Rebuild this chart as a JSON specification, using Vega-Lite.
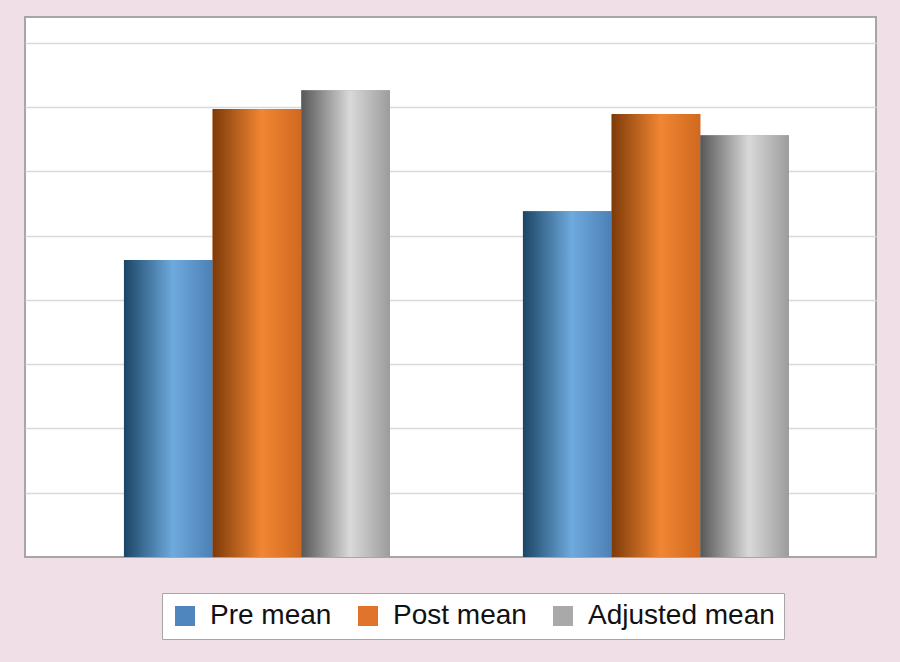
{
  "$schema": "https://vega.github.io/schema/vega-lite/v6.json",
  "width": 851,
  "height": 540,
  "autosize": {"type": "none"},
  "padding": {"left": 25, "top": 17, "right": 24, "bottom": 105},
  "background": "#f1dfe8",
  "data": {
    "values": [
      {"group": "Group 1", "series": "Pre mean", "value": 46.2},
      {"group": "Group 1", "series": "Post mean", "value": 69.7},
      {"group": "Group 1", "series": "Adjusted mean", "value": 72.6},
      {"group": "Group 2", "series": "Pre mean", "value": 53.8},
      {"group": "Group 2", "series": "Post mean", "value": 68.9},
      {"group": "Group 2", "series": "Adjusted mean", "value": 65.6}
    ]
  },
  "encoding": {
    "x": {
      "field": "group",
      "type": "nominal",
      "axis": null,
      "scale": {"paddingInner": 0.3333, "paddingOuter": 0.2331, "align": 0.532}
    },
    "xOffset": {
      "field": "series",
      "type": "nominal",
      "scale": {"domain": ["Pre mean", "Post mean", "Adjusted mean"], "paddingInner": 0, "paddingOuter": 0}
    },
    "y": {
      "field": "value",
      "type": "quantitative",
      "scale": {"domain": [0, 84], "nice": false, "zero": true},
      "axis": {
        "values": [10, 20, 30, 40, 50, 60, 70, 80],
        "labels": false,
        "ticks": false,
        "domain": false,
        "title": null,
        "grid": true,
        "gridColor": "#d9d9d9",
        "gridWidth": 1.5
      }
    }
  },
  "layer": [
    {
      "mark": {"type": "bar"},
      "encoding": {
        "color": {
          "field": "series",
          "type": "nominal",
          "scale": {
            "domain": ["Pre mean", "Post mean", "Adjusted mean"],
            "range": ["#4f86bd", "#e0742a", "#a9a9a9"]
          },
          "legend": {
            "orient": "none",
            "legendX": 137,
            "legendY": 576,
            "direction": "horizontal",
            "columns": 3,
            "title": null,
            "fillColor": "white",
            "strokeColor": "#a6a6a6",
            "padding": 9,
            "symbolType": "square",
            "symbolSize": 400,
            "symbolStrokeWidth": 0,
            "symbolOpacity": 1,
            "labelFont": "Liberation Sans",
            "labelFontSize": 28,
            "labelColor": "#111111",
            "labelOffset": 11,
            "columnPadding": 22,
            "labelLimit": 400,
            "encode": {
              "symbols": {
                "update": {
                  "fill": {"value": {"expr": "datum.value === 'Pre mean' ? {gradient: 'linear', x1: 0, y1: 0, x2: 1, y2: 0, stops: [{offset: 0, color: '#1b4565'}, {offset: 0.55, color: '#6eaadd'}, {offset: 1, color: '#4c80b6'}]} : datum.value === 'Post mean' ? {gradient: 'linear', x1: 0, y1: 0, x2: 1, y2: 0, stops: [{offset: 0, color: '#7d3a08'}, {offset: 0.55, color: '#f18633'}, {offset: 1, color: '#d0691f'}]} : {gradient: 'linear', x1: 0, y1: 0, x2: 1, y2: 0, stops: [{offset: 0, color: '#575757'}, {offset: 0.55, color: '#d9d9d9'}, {offset: 1, color: '#9c9c9c'}]}"}}
                }
              }
            }
          }
        }
      }
    },
    {
      "transform": [{"filter": "datum.series === 'Pre mean'"}],
      "mark": {"type": "bar", "color": {"gradient": "linear", "x1": 0, "y1": 0, "x2": 1, "y2": 0, "stops": [
        {"offset": 0, "color": "#1b4565"},
        {"offset": 0.55, "color": "#6eaadd"},
        {"offset": 1, "color": "#4c80b6"}
      ]}}
    },
    {
      "transform": [{"filter": "datum.series === 'Post mean'"}],
      "mark": {"type": "bar", "color": {"gradient": "linear", "x1": 0, "y1": 0, "x2": 1, "y2": 0, "stops": [
        {"offset": 0, "color": "#7d3a08"},
        {"offset": 0.55, "color": "#f18633"},
        {"offset": 1, "color": "#d0691f"}
      ]}}
    },
    {
      "transform": [{"filter": "datum.series === 'Adjusted mean'"}],
      "mark": {"type": "bar", "color": {"gradient": "linear", "x1": 0, "y1": 0, "x2": 1, "y2": 0, "stops": [
        {"offset": 0, "color": "#575757"},
        {"offset": 0.55, "color": "#d9d9d9"},
        {"offset": 1, "color": "#9c9c9c"}
      ]}}
    }
  ],
  "config": {
    "view": {"fill": "white", "stroke": "#a6a6a6", "strokeWidth": 2},
    "font": "Liberation Sans"
  }
}
